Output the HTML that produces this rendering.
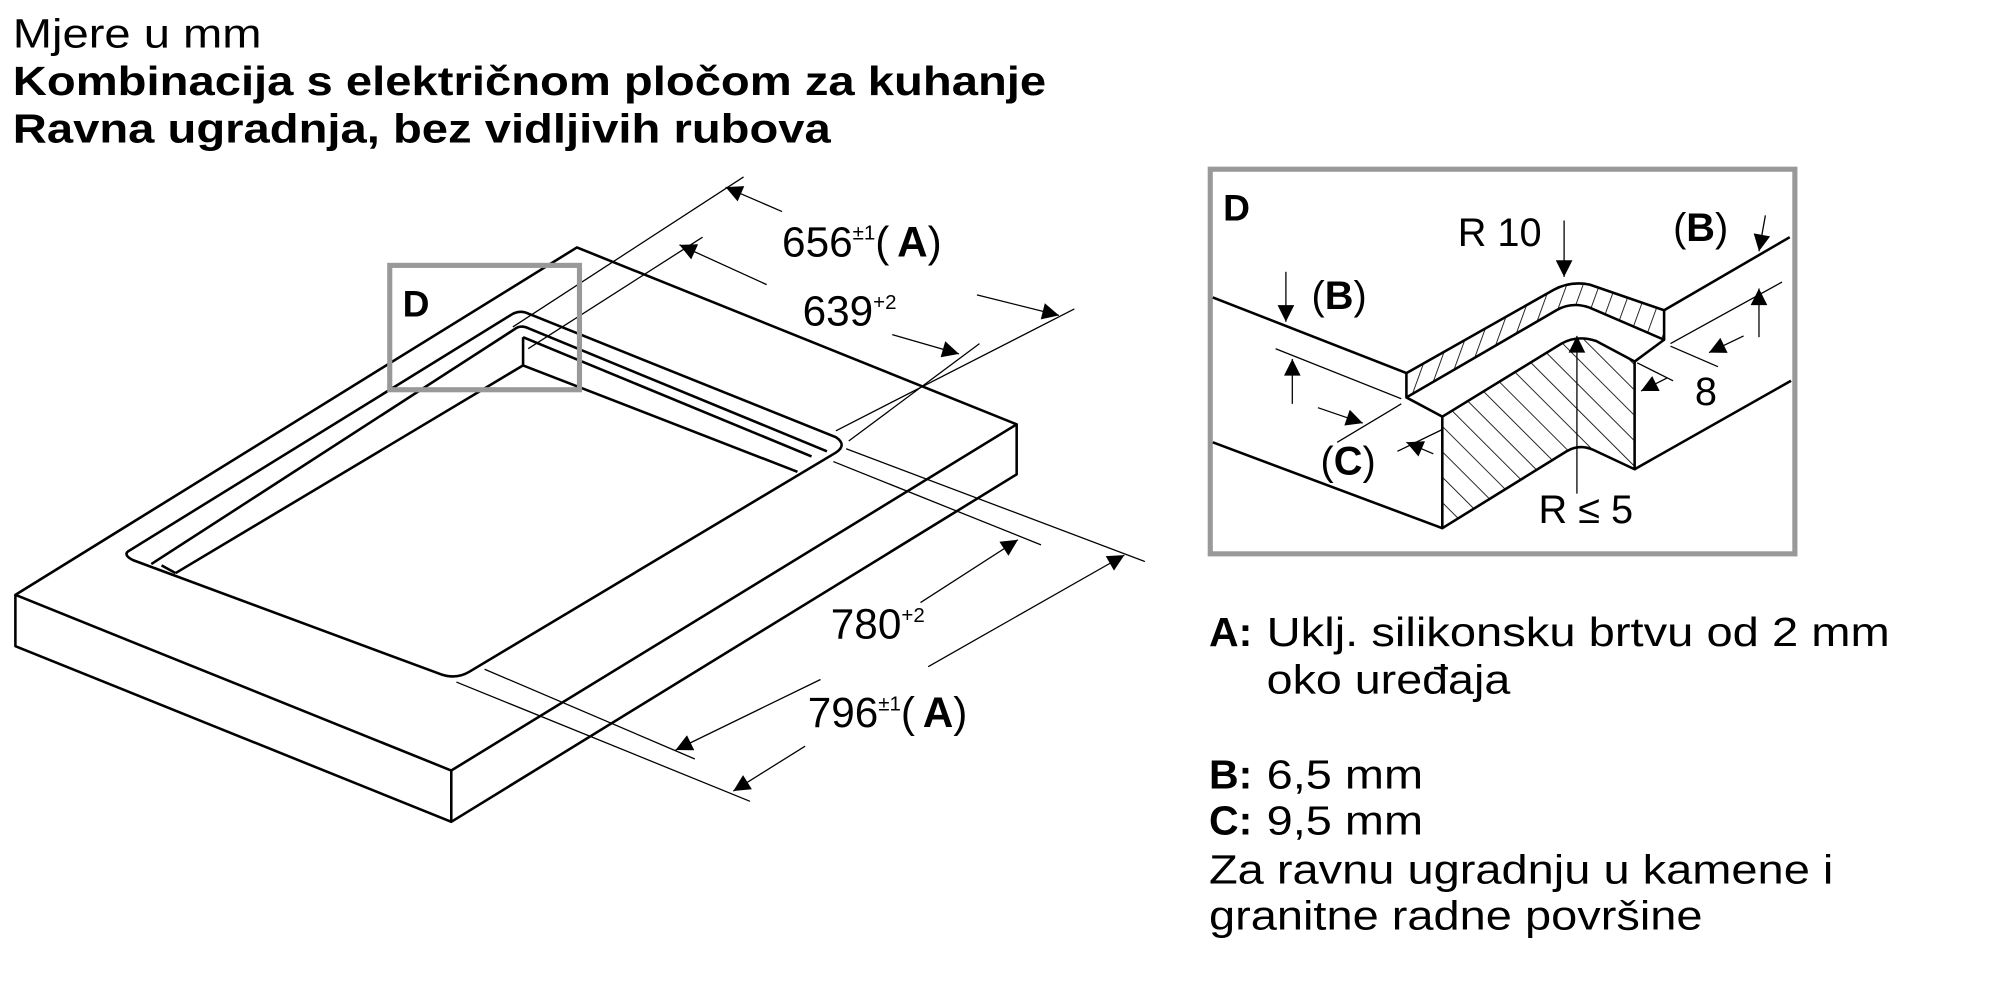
<!DOCTYPE html>
<html><head><meta charset="utf-8"><style>
html,body{margin:0;padding:0;background:#fff;}
svg{display:block;}
text{font-family:"Liberation Sans",Arial,sans-serif;fill:#000;}
.b{font-weight:bold;}
</style></head><body>
<svg width="2000" height="1000" viewBox="0 0 1560 780" xmlns="http://www.w3.org/2000/svg">
<defs>
<marker id="ar2" viewBox="0 0 10 10" refX="10" refY="5" markerWidth="22" markerHeight="13" orient="auto" markerUnits="userSpaceOnUse">
<path d="M0,0 L10,5 L0,10 z" fill="#000"/></marker>
<pattern id="h1" width="14" height="14" patternUnits="userSpaceOnUse" patternTransform="rotate(-45)">
<line x1="0" y1="0" x2="0" y2="14" stroke="#000" stroke-width="1.3"/></pattern>
<pattern id="h2" width="12" height="12" patternUnits="userSpaceOnUse" patternTransform="rotate(20)">
<line x1="0" y1="0" x2="0" y2="12" stroke="#000" stroke-width="1.3"/></pattern>
</defs>

<text x="10" y="37" font-size="32" textLength="194" lengthAdjust="spacingAndGlyphs">Mjere u mm</text>
<text x="10" y="74" font-size="32" class="b" textLength="806" lengthAdjust="spacingAndGlyphs">Kombinacija s električnom pločom za kuhanje</text>
<text x="10" y="111" font-size="32" class="b" textLength="638" lengthAdjust="spacingAndGlyphs">Ravna ugradnja, bez vidljivih rubova</text>

<g fill="none" stroke="#000" stroke-width="2" stroke-linejoin="round">
<path d="M12,464 L450,193 L793,331 L352,601 Z" fill="#fff"/>
<path d="M12,464 L12,504 L352,641 L793,370 L793,331"/>
<path d="M352,601 L352,641"/>
<path d="M100,430 L398,246 Q405,241 413,245 L652,341 Q661,347 652,353 L366,524 Q356,530 344,526 L104,437 Q96,433 100,430 Z"/>
<path d="M118,440 L401,257 Q406,253 412,256 L645,352"/>
<path d="M408,263 L408,285"/>
<path d="M408,263 L633,356"/>
<path d="M408,285 L137,447"/>
<path d="M408,285 L622,368"/>
<path d="M126,441 L137,447"/>
</g>

<g stroke="#000" stroke-width="1" fill="none">
<line x1="400" y1="255" x2="580" y2="138"/>
<line x1="412" y1="272" x2="548" y2="185"/>
<line x1="652" y1="336" x2="838" y2="241"/>
<line x1="662" y1="344" x2="764" y2="268"/>
<line x1="660" y1="350" x2="893" y2="438"/>
<line x1="650" y1="360" x2="812" y2="425"/>
<line x1="356" y1="532" x2="585" y2="625"/>
<line x1="378" y1="522" x2="542" y2="592"/>
</g>
<g stroke="#000" stroke-width="1" fill="none">
<line x1="610" y1="165" x2="566" y2="146" marker-end="url(#ar2)"/>
<line x1="762" y1="230" x2="826" y2="246" marker-end="url(#ar2)"/>
<line x1="598" y1="222" x2="530" y2="191" marker-end="url(#ar2)"/>
<line x1="696" y1="261" x2="748" y2="276" marker-end="url(#ar2)"/>
<line x1="718" y1="470" x2="794" y2="421" marker-end="url(#ar2)"/>
<line x1="640" y1="530" x2="527" y2="585" marker-end="url(#ar2)"/>
<line x1="724" y1="520" x2="877" y2="433" marker-end="url(#ar2)"/>
<line x1="628" y1="582" x2="572" y2="617" marker-end="url(#ar2)"/>
</g>
<text x="610" y="200" font-size="33">656<tspan font-size="16" dy="-13">±1</tspan><tspan dy="13">(</tspan><tspan class="b" dx="6">A</tspan>)</text>
<text x="626" y="254" font-size="33">639<tspan font-size="16" dy="-13">+2</tspan></text>
<text x="648" y="498" font-size="33">780<tspan font-size="16" dy="-13">+2</tspan></text>
<text x="630" y="567" font-size="33">796<tspan font-size="16" dy="-13">±1</tspan><tspan dy="13">(</tspan><tspan class="b" dx="6">A</tspan>)</text>

<rect x="304" y="207" width="148" height="97" fill="none" stroke="#999" stroke-width="4"/>
<text x="314" y="247" font-size="29" class="b">D</text>

<rect x="944" y="132" width="456" height="300" fill="none" stroke="#999" stroke-width="4"/>
<text x="954" y="172" font-size="29" class="b">D</text>
<g stroke="#000" stroke-width="2" stroke-linejoin="round">
<path d="M1097,291 L1212,226 Q1225,219 1240,222 L1298,242 L1298,265 L1240,240 Q1226,235 1214,242 L1097,310 Z" fill="url(#h2)"/>
<path d="M1125,325 L1218,268 Q1230,261 1245,266 L1275,282 L1275,366 L1243,351 Q1232,346 1222,352 L1125,412 Z" fill="url(#h1)"/>
<path d="M1097,310 L1125,325" fill="none"/>
<path d="M1275,282 L1298,265" fill="none"/>
<path d="M946,232 L1097,291" fill="none"/>
<path d="M1298,242 L1396,185" fill="none"/>
<path d="M946,345 L1125,412" fill="none"/>
<path d="M1275,366 L1397,297" fill="none"/>
</g>
<g stroke="#000" stroke-width="1" fill="none">
<line x1="1220" y1="172" x2="1220" y2="216" marker-end="url(#ar2)"/>
<line x1="1230" y1="385" x2="1230" y2="262" marker-end="url(#ar2)"/>
<line x1="1003" y1="212" x2="1003" y2="251" marker-end="url(#ar2)"/>
<line x1="1377" y1="168" x2="1372" y2="196" marker-end="url(#ar2)"/>
<line x1="1008" y1="315" x2="1008" y2="280" marker-end="url(#ar2)"/>
<line x1="1028" y1="318" x2="1063" y2="330" marker-end="url(#ar2)"/>
<line x1="1118" y1="354" x2="1097" y2="345" marker-end="url(#ar2)"/>
<line x1="1372" y1="263" x2="1372" y2="225" marker-end="url(#ar2)"/>
<line x1="1360" y1="262" x2="1333" y2="275" marker-end="url(#ar2)"/>
<line x1="1300" y1="295" x2="1280" y2="305" marker-end="url(#ar2)"/>
<line x1="995" y1="272" x2="1093" y2="311"/>
<line x1="1093" y1="315" x2="1043" y2="345"/>
<line x1="1125" y1="335" x2="1090" y2="352"/>
<line x1="1303" y1="268" x2="1390" y2="220"/>
<line x1="1303" y1="270" x2="1340" y2="286"/>
<line x1="1277" y1="283" x2="1305" y2="297"/>
</g>
<text x="1137" y="192" font-size="31">R 10</text>
<text x="1305" y="188" font-size="31">(<tspan class="b">B</tspan>)</text>
<text x="1023" y="241" font-size="31">(<tspan class="b">B</tspan>)</text>
<text x="1322" y="316" font-size="31">8</text>
<text x="1030" y="370" font-size="31">(<tspan class="b">C</tspan>)</text>
<text x="1200" y="408" font-size="31">R ≤ 5</text>

<text x="943" y="504" font-size="32" class="b">A:</text>
<text x="988" y="504" font-size="32" textLength="486" lengthAdjust="spacingAndGlyphs">Uklj. silikonsku brtvu od 2 mm</text>
<text x="988" y="541" font-size="32" textLength="190" lengthAdjust="spacingAndGlyphs">oko uređaja</text>
<text x="943" y="615" font-size="32" class="b">B:</text>
<text x="988" y="615" font-size="32" textLength="122" lengthAdjust="spacingAndGlyphs">6,5 mm</text>
<text x="943" y="651" font-size="32" class="b">C:</text>
<text x="988" y="651" font-size="32" textLength="122" lengthAdjust="spacingAndGlyphs">9,5 mm</text>
<text x="943" y="689" font-size="32" textLength="487" lengthAdjust="spacingAndGlyphs">Za ravnu ugradnju u kamene i</text>
<text x="943" y="725" font-size="32" textLength="385" lengthAdjust="spacingAndGlyphs">granitne radne površine</text>
</svg>
</body></html>
